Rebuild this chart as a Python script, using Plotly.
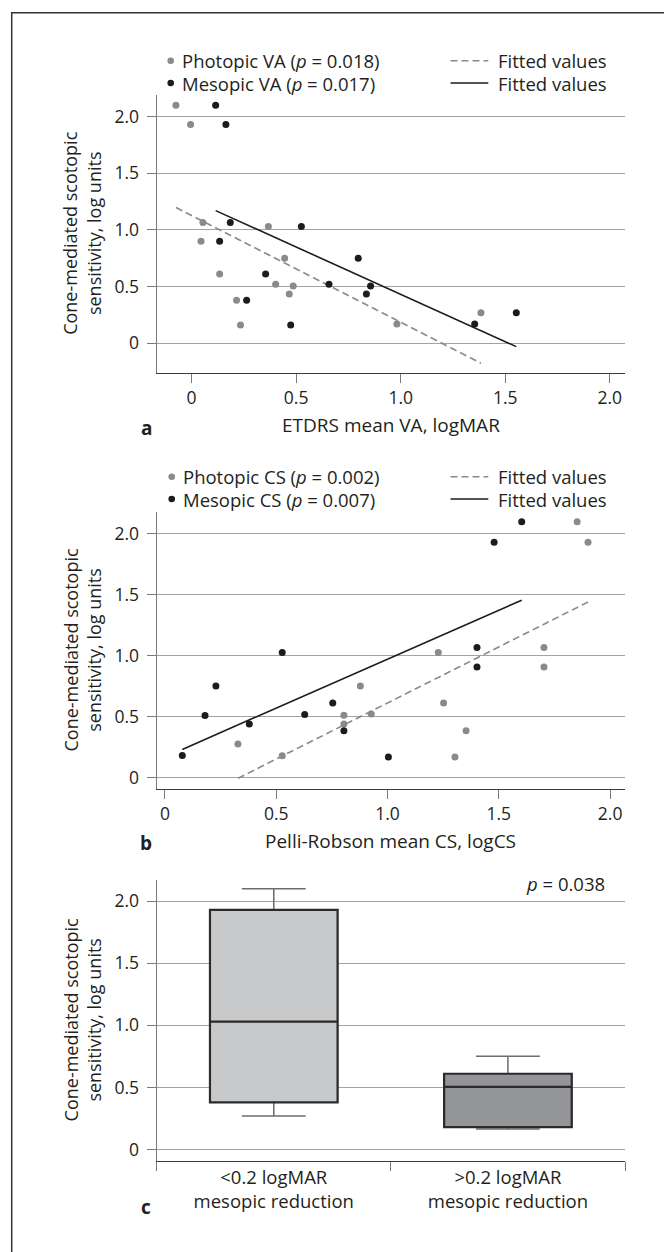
import plotly.graph_objects as go

W, H = 664, 1252

# ---------------- data ----------------
# Panel a: ETDRS mean VA (logMAR) vs cone-mediated scotopic sensitivity
a_photopic_x = [-0.075, -0.005, 0.054, 0.045, 0.134, 0.215, 0.234, 0.367, 0.445, 0.402, 0.467, 0.486, 0.982, 1.384]
a_photopic_y = [2.10, 1.93, 1.065, 0.90, 0.61, 0.38, 0.16, 1.03, 0.75, 0.52, 0.435, 0.505, 0.17, 0.27]
a_mesopic_x = [0.115, 0.164, 0.185, 0.134, 0.354, 0.263, 0.474, 0.525, 0.797, 0.657, 0.836, 0.856, 1.354, 1.553]
a_mesopic_y = [2.10, 1.93, 1.065, 0.90, 0.61, 0.38, 0.16, 1.03, 0.75, 0.52, 0.435, 0.505, 0.17, 0.27]
a_fit_photopic_x = [-0.075, 1.384]
a_fit_photopic_y = [1.197, -0.176]
a_fit_mesopic_x = [0.115, 1.553]
a_fit_mesopic_y = [1.17, -0.03]

# Panel b: Pelli-Robson mean CS (logCS)
b_photopic_x = [0.328, 0.527, 0.804, 0.804, 0.878, 0.927, 1.228, 1.252, 1.353, 1.303, 1.703, 1.703, 1.852, 1.901]
b_photopic_y = [0.276, 0.18, 0.511, 0.44, 0.751, 0.522, 1.027, 0.612, 0.385, 0.169, 1.068, 0.907, 2.098, 1.929]
b_mesopic_x = [0.078, 0.18, 0.229, 0.379, 0.527, 0.628, 0.754, 0.804, 1.004, 1.402, 1.402, 1.479, 1.603]
b_mesopic_y = [0.183, 0.51, 0.751, 0.44, 1.027, 0.519, 0.612, 0.385, 0.169, 1.068, 0.907, 1.929, 2.098]
b_fit_photopic_x = [0.328, 1.901]
b_fit_photopic_y = [-0.005, 1.44]
b_fit_mesopic_x = [0.078, 1.603]
b_fit_mesopic_y = [0.232, 1.455]

# Panel c: box plot statistics
c_groups = ["&lt;0.2 logMAR<br>mesopic reduction", "&gt;0.2 logMAR<br>mesopic reduction"]
c_lower = [0.27, 0.165]
c_q1 = [0.38, 0.18]
c_median = [1.03, 0.505]
c_q3 = [1.93, 0.61]
c_upper = [2.10, 0.75]
c_fill = ["#c8c9cb", "#939598"]

tick_vals = [0, 0.5, 1.0, 1.5, 2.0]
tick_text = ["0", "0.5", "1.0", "1.5", "2.0"]

# ---------------- styling ----------------
FONT = "Open Sans"
TXT = "#231f20"
GRAY_PT = "#8a8a8a"
BLACK_PT = "#1c1c1c"
GRID = "#a3a3a3"
TICK_FS = 17.5
LEG_FS = 18.5
TITLE_FS = 19


def px(x):
    return x / W


def py(y):
    return 1 - y / H


XL, XR = 156.7, 625.0
panels = {
    "a": (95.0, 372.7),
    "b": (511.7, 789.3),
    "c": (880.0, 1160.8),
}

fig = go.Figure()

# panel a
fig.add_trace(go.Scatter(x=a_fit_photopic_x, y=a_fit_photopic_y, mode="lines",
                         line=dict(color=GRAY_PT, width=1.6, dash="7px,4px"), xaxis="x", yaxis="y"))
fig.add_trace(go.Scatter(x=a_fit_mesopic_x, y=a_fit_mesopic_y, mode="lines",
                         line=dict(color=BLACK_PT, width=1.6), xaxis="x", yaxis="y"))
fig.add_trace(go.Scatter(x=a_photopic_x, y=a_photopic_y, mode="markers",
                         marker=dict(color=GRAY_PT, size=7), xaxis="x", yaxis="y"))
fig.add_trace(go.Scatter(x=a_mesopic_x, y=a_mesopic_y, mode="markers",
                         marker=dict(color=BLACK_PT, size=7), xaxis="x", yaxis="y"))

# panel b
fig.add_trace(go.Scatter(x=b_fit_photopic_x, y=b_fit_photopic_y, mode="lines",
                         line=dict(color=GRAY_PT, width=1.6, dash="7px,4px"), xaxis="x2", yaxis="y2"))
fig.add_trace(go.Scatter(x=b_fit_mesopic_x, y=b_fit_mesopic_y, mode="lines",
                         line=dict(color=BLACK_PT, width=1.6), xaxis="x2", yaxis="y2"))
fig.add_trace(go.Scatter(x=b_photopic_x, y=b_photopic_y, mode="markers",
                         marker=dict(color=GRAY_PT, size=7), xaxis="x2", yaxis="y2"))
fig.add_trace(go.Scatter(x=b_mesopic_x, y=b_mesopic_y, mode="markers",
                         marker=dict(color=BLACK_PT, size=7), xaxis="x2", yaxis="y2"))

# panel c: whiskers (gray) then box outline (dark) on top
for i in range(len(c_groups)):
    fig.add_trace(go.Box(x=[c_groups[i]], q1=[c_q1[i]], median=[c_median[i]], q3=[c_q3[i]],
                         lowerfence=[c_lower[i]], upperfence=[c_upper[i]],
                         width=0.545, whiskerwidth=0.5, fillcolor=c_fill[i],
                         line=dict(color="#6d6d6d", width=1.5), boxpoints=False,
                         hoverinfo="skip", xaxis="x3", yaxis="y3"))
    fig.add_trace(go.Box(x=[c_groups[i]], q1=[c_q1[i]], median=[c_median[i]], q3=[c_q3[i]],
                         lowerfence=[c_q1[i]], upperfence=[c_q3[i]],
                         width=0.545, whiskerwidth=0, fillcolor=c_fill[i],
                         line=dict(color="#2b2b2b", width=2.2), boxpoints=False,
                         hoverinfo="skip", xaxis="x3", yaxis="y3"))

common_y = dict(
    tickmode="array", tickvals=tick_vals, ticktext=tick_text,
    showgrid=True, gridcolor=GRID, gridwidth=1, zeroline=False,
    showline=True, linecolor="#7a7a7a", linewidth=1.3,
    ticks="outside", ticklen=9, tickcolor="#7a7a7a", tickwidth=1.2,
    tickfont=dict(family=FONT, size=TICK_FS, color=TXT), ticklabelstandoff=4,
    fixedrange=True,
)
common_x = dict(
    showgrid=False, zeroline=False,
    showline=True, linecolor="#3a3a3a", linewidth=1.3,
    ticks="outside", ticklen=9, tickcolor="#7a7a7a", tickwidth=1.2,
    tickfont=dict(family=FONT, size=TICK_FS, color=TXT),
    fixedrange=True,
)

def dom(key):
    t, b = panels[key]
    return [py(b), py(t)]

layout = dict(
    width=W, height=H,
    margin=dict(l=0, r=0, t=0, b=0),
    paper_bgcolor="white", plot_bgcolor="white",
    showlegend=False,
    xaxis=dict(common_x, domain=[px(XL), px(XR)], range=[-0.167, 2.073], anchor="y",
               tickmode="array", tickvals=tick_vals, ticktext=tick_text),
    yaxis=dict(common_y, domain=dom("a"), range=[-0.26, 2.19], anchor="x"),
    xaxis2=dict(common_x, domain=[px(XL), px(XR)], range=[-0.037, 2.067], anchor="y2",
                tickmode="array", tickvals=tick_vals, ticktext=tick_text),
    yaxis2=dict(common_y, domain=dom("b"), range=[-0.095, 2.18], anchor="x2"),
    xaxis3=dict(common_x, domain=[px(XL), px(XR)], range=[-0.5, 1.5], anchor="y3",
                type="category", tickson="boundaries",
                tickfont=dict(family=FONT, size=LEG_FS, color=TXT)),
    yaxis3=dict(common_y, domain=dom("c"), range=[-0.091, 2.17], anchor="x3"),
)
fig.update_layout(**layout)

annotations = []
shapes = []

# y-axis titles
for key in ["a", "b", "c"]:
    t, b = panels[key]
    annotations.append(dict(xref="paper", yref="paper", x=px(82), y=py((t + b) / 2),
                            text="Cone-mediated scotopic<br>sensitivity, log units",
                            textangle=-90, showarrow=False, xanchor="center", yanchor="middle",
                            font=dict(family=FONT, size=18, color=TXT)))

# x-axis titles
annotations.append(dict(xref="paper", yref="paper", x=px((XL + XR) / 2), y=py(425),
                        text="ETDRS mean VA, logMAR", showarrow=False,
                        xanchor="center", yanchor="middle", font=dict(family=FONT, size=TITLE_FS, color=TXT)))
annotations.append(dict(xref="paper", yref="paper", x=px((XL + XR) / 2), y=py(841),
                        text="Pelli-Robson mean CS, logCS", showarrow=False,
                        xanchor="center", yanchor="middle", font=dict(family=FONT, size=TITLE_FS, color=TXT)))

# panel letters
for lab, yy in [("a", 428), ("b", 843), ("c", 1207)]:
    annotations.append(dict(xref="paper", yref="paper", x=px(146), y=py(yy), text="<b>%s</b>" % lab,
                            showarrow=False, xanchor="center", yanchor="middle",
                            font=dict(family=FONT, size=19, color=TXT)))

# p-value in panel c
annotations.append(dict(xref="paper", yref="paper", x=px(607), y=py(883), text="<i>p</i> = 0.038",
                        showarrow=False, xanchor="right", yanchor="middle",
                        font=dict(family=FONT, size=LEG_FS, color=TXT)))

# legends
legends = [
    (60.7, 83.0, 170.7, "Photopic VA (<i>p</i> = 0.018)", "Mesopic VA (<i>p</i> = 0.017)"),
    (476.7, 499.0, 171.7, "Photopic CS (<i>p</i> = 0.002)", "Mesopic CS (<i>p</i> = 0.007)"),
]
for y1, y2, dx, t1, t2 in legends:
    for yy, col, txt, dash in [(y1, GRAY_PT, t1, "dash"), (y2, BLACK_PT, t2, "solid")]:
        r = 3.3
        shapes.append(dict(type="circle", xref="paper", yref="paper",
                           x0=px(dx - r), x1=px(dx + r), y0=py(yy + r), y1=py(yy - r),
                           fillcolor=col, line=dict(width=0)))
        annotations.append(dict(xref="paper", yref="paper", x=px(dx + 9.5), y=py(yy), text=txt,
                                showarrow=False, xanchor="left", yanchor="middle",
                                font=dict(family=FONT, size=LEG_FS, color=TXT)))
        shapes.append(dict(type="line", xref="paper", yref="paper",
                           x0=px(450.5), x1=px(488.3), y0=py(yy), y1=py(yy),
                           line=dict(color=col, width=1.6, dash="7px,4px" if dash == "dash" else "solid")))
        annotations.append(dict(xref="paper", yref="paper", x=px(496), y=py(yy), text="Fitted values",
                                showarrow=False, xanchor="left", yanchor="middle",
                                font=dict(family=FONT, size=LEG_FS, color=TXT)))

# outer frame (left and top edges visible)
shapes.append(dict(type="rect", xref="paper", yref="paper", x0=px(11.7), x1=px(700), y0=py(1300), y1=py(12.7),
                   line=dict(color="#333333", width=1.5), fillcolor="rgba(0,0,0,0)", layer="above"))

fig.update_layout(annotations=annotations, shapes=shapes)
fig.write_html("out.html")
